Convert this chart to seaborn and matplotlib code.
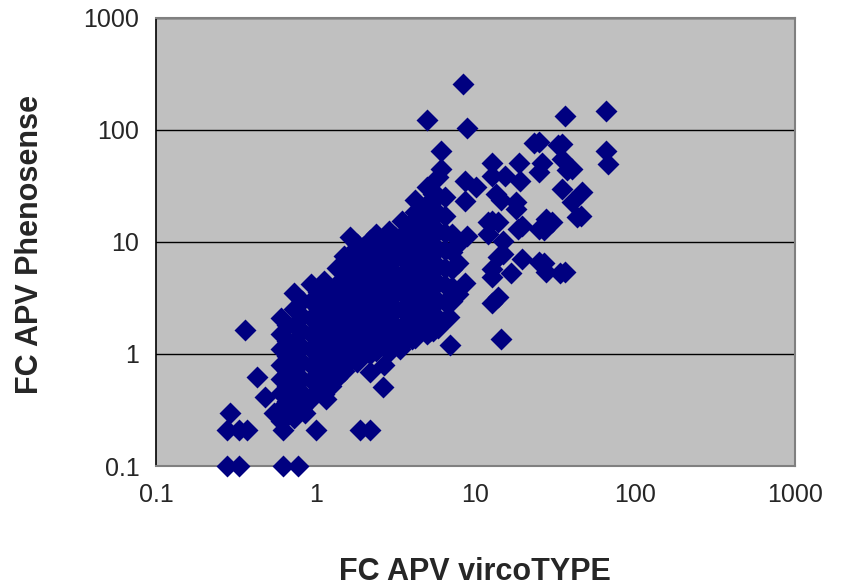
import numpy as np
import pandas as pd
import matplotlib
matplotlib.use("Agg")
import matplotlib.pyplot as plt
import seaborn as sns
from matplotlib.ticker import FixedLocator, FixedFormatter, NullLocator

# points lisibles individuellement (bords du nuage)
sparse_x = [8.3, 5.0, 8.9, 36.3, 65.6, 65.6, 67.6,
            6.1, 6.1, 8.6, 10.1, 8.6, 4.2, 8.8,
            12.6, 12.6, 15.4, 18.6, 19.0, 24.8, 34.8, 34.8, 26.0, 24.8, 40.0,
            34.8, 40.0, 46.5, 45.7, 30.0, 26.7, 26.7, 27.5, 36.3,
            13.9, 17.8, 19.5, 12.6, 12.6, 13.9, 12.6, 16.8, 19.5, 13.9, 12.6, 14.4,
            6.96, 4.2, 8.6, 6.8,
            14.4, 13.5, 11.9, 11.9, 14.8, 14.8, 17.8, 43.3, 27.5, 25.1, 18.4,
            25.1, 33.8, 23.3, 32.7, 37.5,
            0.36, 0.43, 0.48, 0.29, 0.28, 0.33, 0.37, 0.62, 1.0, 1.89, 2.18,
            0.28, 0.33, 0.62, 0.77, 0.55, 0.64, 2.2, 2.64, 1.16, 0.86, 1.17,
            1.36, 1.75, 2.67, 3.35, 4.03, 5.18, 6.0]
sparse_y = [258, 122, 104, 133, 148, 65, 49.6,
            65, 45, 35, 31, 23, 18.5, 11.2,
            51, 38.6, 38.6, 51, 35, 78, 75, 55, 51, 42, 44.6,
            29.6, 22.6, 27.8, 16.9, 15, 12.9, 6.5, 5.4, 5.4,
            15, 19.6, 13.8, 15.3, 5.7, 7.4, 4.9, 5.3, 7.0, 3.25, 2.86, 1.36,
            1.2, 1.42, 4.3, 2.15,
            23.5, 26.9, 15, 11.8, 10.3, 7.8, 22.7, 16.6, 16.1, 13.1, 13.1,
            6.6, 5.3, 76.8, 73, 43.7,
            1.64, 0.62, 0.41, 0.30, 0.21, 0.21, 0.21, 0.21, 0.21, 0.21, 0.21,
            0.1, 0.1, 0.1, 0.1, 0.30, 0.30, 0.69, 0.51, 0.40, 0.30, 0.5,
            0.63, 0.89, 0.80, 1.10, 1.35, 1.6, 1.97]

# nuage dense : une colonne de valeurs y par valeur x
blob_col_x = [0.61, 0.66, 0.73, 0.82, 0.94, 1.03, 1.13, 1.24, 1.36, 1.5,
              1.64, 1.8, 1.98, 2.18, 2.38, 2.62, 2.87, 3.15, 3.46, 3.8,
              4.16, 4.55, 5.0, 5.4, 5.8, 6.4, 7.1, 7.8]
blob_col_y = [
    [2.1, 1.5, 1.1, 0.8, 0.6, 0.45, 0.33, 0.25],
    [1.8, 1.3, 0.95, 0.7, 0.52, 0.38, 0.28],
    [3.5, 2.5, 1.8, 1.3, 0.95, 0.7, 0.5, 0.36, 0.27],
    [3.0, 2.2, 1.6, 1.15, 0.85, 0.6, 0.45, 0.33],
    [4.2, 3.0, 2.1, 1.5, 1.1, 0.8, 0.58, 0.4],
    [3.6, 2.6, 1.8, 1.3, 0.95, 0.68, 0.48],
    [4.5, 3.2, 2.3, 1.6, 1.15, 0.82, 0.6, 0.44],
    [3.8, 2.7, 1.9, 1.35, 0.97, 0.7, 0.52],
    [5.9, 4.2, 3.0, 2.1, 1.5, 1.1, 0.8, 0.61],
    [7.5, 5.2, 3.6, 2.6, 1.8, 1.3, 0.92, 0.7],
    [11, 7.8, 5.5, 3.9, 2.8, 2.0, 1.4, 1.0, 0.86],
    [9.5, 6.6, 4.6, 3.2, 2.3, 1.6, 1.15, 0.85],
    [9.0, 6.2, 4.4, 3.1, 2.2, 1.55, 1.1, 0.99],
    [10.5, 7.4, 5.2, 3.6, 2.6, 1.8, 1.3, 1.0],
    [11.8, 8.3, 5.8, 4.1, 2.9, 2.0, 1.4, 1.06],
    [10, 7, 4.9, 3.4, 2.4, 1.7, 1.2],
    [12.6, 8.8, 6.2, 4.4, 3.1, 2.2, 1.5, 1.05],
    [11, 7.6, 5.3, 3.7, 2.6, 1.8, 1.3],
    [15.5, 10.5, 7.3, 5.1, 3.6, 2.5, 1.75, 1.2],
    [13, 9.0, 6.3, 4.4, 3.1, 2.2, 1.5],
    [23.5, 16, 11, 7.8, 5.5, 3.8, 2.7, 1.9, 1.4],
    [20, 14, 9.5, 6.6, 4.6, 3.2, 2.3, 1.6],
    [31, 22, 15, 10.5, 7.3, 5.1, 3.6, 2.5, 1.75, 1.5],
    [27, 19, 13, 9, 6.3, 4.4, 3.1, 2.2, 1.6],
    [38, 26, 18, 12.5, 8.7, 6.1, 4.3, 3.0, 2.1, 1.7],
    [25, 17, 12, 8.4, 5.9, 4.1, 2.9, 2.0],
    [11.8, 8.2, 5.7, 4.0, 3.0],
    [9.5, 6.5, 3.4],
]

tick_vals = [0.1, 1, 10, 100, 1000]
tick_labels = ["0.1", "1", "10", "100", "1000"]

blob_x = [x for x, ys in zip(blob_col_x, blob_col_y) for _ in ys]
blob_y = [y for ys in blob_col_y for y in ys]
data = pd.DataFrame({"virco": sparse_x + blob_x, "pheno": sparse_y + blob_y})

sns.set_style("white")
plt.rcParams["font.family"] = ["Liberation Sans", "DejaVu Sans"]

fig = plt.figure(figsize=(8.41, 5.86), dpi=100)
ax = fig.add_axes([156 / 841, 1 - 466 / 586, (795 - 156) / 841, (466 - 18) / 586])
ax.set_facecolor("#C0C0C0")

sns.scatterplot(data=data, x="virco", y="pheno", marker="D", s=125,
                color="#000080", linewidth=0, ax=ax, zorder=3, clip_on=False)

ax.set_xscale("log")
ax.set_yscale("log")
ax.set_xlim(0.1, 1000)
ax.set_ylim(0.1, 1000)
for a in (ax.xaxis, ax.yaxis):
    a.set_major_locator(FixedLocator(tick_vals))
    a.set_major_formatter(FixedFormatter(tick_labels))
    a.set_minor_locator(NullLocator())
ax.tick_params(axis="both", which="major", direction="out", length=6, width=1.2,
               color="black", labelsize=18, pad=6)
ax.yaxis.grid(True, color="black", linewidth=1)
ax.xaxis.grid(False)
ax.set_axisbelow(True)

for side in ["top", "right"]:
    ax.spines[side].set_color("#808080")
    ax.spines[side].set_linewidth(1.5)
ax.spines["left"].set_color("black")
ax.spines["bottom"].set_color("#808080")
ax.spines["left"].set_linewidth(1.2)
ax.spines["bottom"].set_linewidth(1.5)

ax.set_xlabel("")
ax.set_ylabel("")
fig.text(475 / 841, 1 - 572 / 586, "FC APV vircoTYPE", ha="center", va="center",
         fontsize=22, fontweight="bold")
fig.text(30 / 841, 1 - 245 / 586, "FC APV Phenosense", ha="center", va="center",
         rotation=90, fontsize=22, fontweight="bold")

fig.savefig("out.png", dpi=100)
